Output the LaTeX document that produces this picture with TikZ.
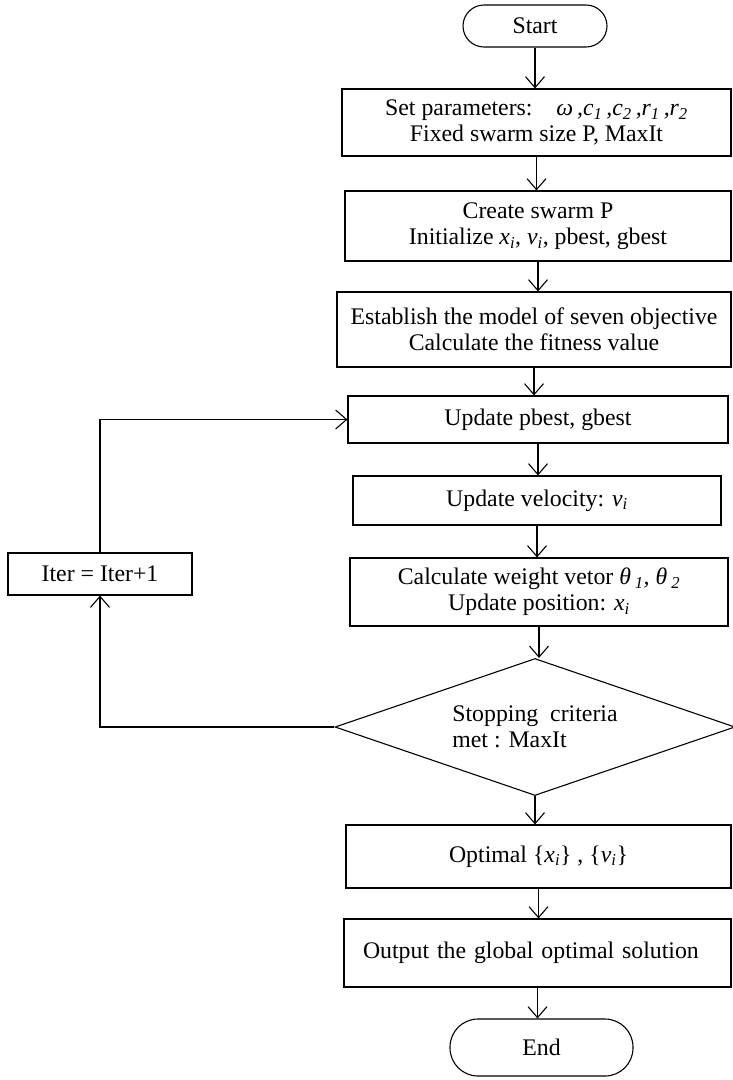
\documentclass[tikz,border=0pt]{standalone}
\usepackage{fontspec}
\setmainfont{Liberation Serif}
\usetikzlibrary{shapes.geometric, arrows.meta}

\begin{document}
\begin{tikzpicture}[x=1pt, y=-1pt, line width=1.1pt,
  box/.style={draw, rectangle, align=center, inner sep=0pt,
    font=\fontsize{23.8}{26}\selectfont},
  term/.style={box, rounded corners=21pt},
  flow/.style={-{Straight Barb[length=11pt,width=19pt]}}]
  \useasboundingbox (0,0) rectangle (732,1080);

  \node[term, minimum width=144pt, minimum height=42pt] (start) at (535,26) {Start};
  \node[box, minimum width=389pt, minimum height=67pt] (setp) at (536.5,122.5)
    {Set parameters:\quad\textit{ω\,,c\textsubscript{1}\,,c\textsubscript{2}\,,r\textsubscript{1}\,,r\textsubscript{2}}\\Fixed swarm size P, MaxIt};
  \node[box, minimum width=386pt, minimum height=70pt] (create) at (538,226)
    {Create swarm P\\Initialize \textit{x\textsubscript{i}}, \textit{v\textsubscript{i}}, pbest, gbest};
  \node[box, minimum width=394pt, minimum height=75pt] (model) at (534,329.5)
    {Establish the model of seven objective\\Calculate the fitness value};
  \node[box, minimum width=380pt, minimum height=47pt] (update) at (538,419.5) {Update pbest, gbest};
  \node[box, minimum width=368pt, minimum height=49pt] (veloc) at (537,500.5)
    {Update velocity: \textit{v\textsubscript{i}}};
  \node[box, minimum width=378pt, minimum height=68pt] (weight) at (539,592)
    {Calculate weight vetor \textit{θ\,\textsubscript{1},\ θ\,\textsubscript{2}}\\Update position: \textit{x\textsubscript{i}}};
  \node[box, diamond, aspect=2.92, minimum width=400pt, minimum height=137pt, align=left] (test) at (535,727)
    {Stopping\ \ criteria\\met : MaxIt};
  \node[box, minimum width=184pt, minimum height=42pt] (iter) at (100,574) {Iter = Iter+1};
  \node[box, minimum width=385pt, minimum height=63pt] (optimal) at (538.5,856.5)
    {Optimal \{\textit{x\textsubscript{i}}\} , \{\textit{v\textsubscript{i}}\}};
  \node[box, minimum width=387pt, minimum height=68pt, text width=349pt, align=left] (output) at (537.5,953)
    {Output the global optimal solution};
  \node[term, rounded corners=28pt, minimum width=183pt, minimum height=57pt] (end) at (541.5,1047.5) {End};

  \foreach \a/\b in {start/setp,setp/create,create/model,model/update,update/veloc,
    veloc/weight,weight/test,test/optimal,optimal/output,output/end}
  \draw[flow] (\a.south) -- (\a.south |- \b.north);

  \draw[flow] (test.west) -| (iter.south);
  \draw[flow] (iter.north) |- (update.west);
\end{tikzpicture}
\end{document}
